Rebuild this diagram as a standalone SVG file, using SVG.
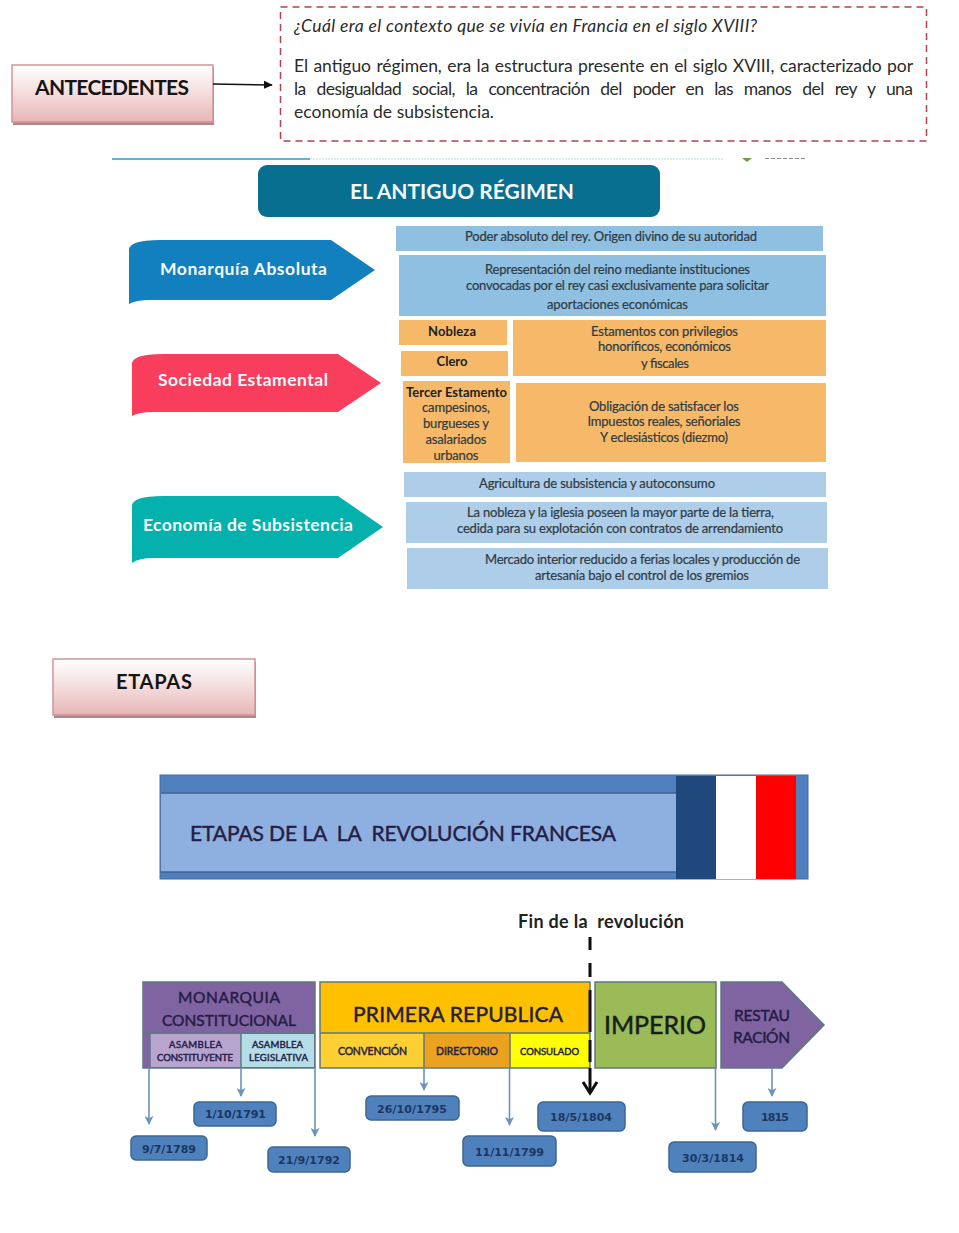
<svg xmlns="http://www.w3.org/2000/svg" width="959" height="1233" viewBox="0 0 959 1233">
<style>
text{font-family:Lato,"Liberation Sans",sans-serif;text-anchor:middle;white-space:pre}
.body{font-size:17.500px;fill:#2b2b2b;text-anchor:start}
.head{font-weight:700;fill:#151515}
.w{font-weight:700;fill:#f4f8fa}
.s{font-size:13px;fill:#2e3a44;stroke:#2e3a44;stroke-width:.2px}
.sb{font-size:13px;font-weight:700;fill:#1e1e1e}
.t{fill:#261d45;stroke:#261d45;stroke-width:.45px}
.d{font-size:11px;font-weight:700;fill:#1d3763;font-family:"DejaVu Sans",sans-serif}
.lb{fill:#8fc0e2}.or{fill:#f5b969}.lb2{fill:#aecde8}
.date{fill:#4f81bd;stroke:#3d6594;stroke-width:1.500}
.c{fill:none;stroke:#6b93bb;stroke-width:1.600;marker-end:url(#ah)}
.pink{fill:url(#pg);stroke:#cf9698;stroke-width:1.500}
.shadow{fill:#b08688}
.box{stroke:#5d7a80;stroke-width:1.500}
</style>
<defs>
<linearGradient id="pg" x1="0" y1="0" x2="0" y2="1"><stop offset="0" stop-color="#fff"/><stop offset=".45" stop-color="#f6e0e0"/><stop offset="1" stop-color="#e8b5b6"/></linearGradient>
<marker id="ah" viewBox="0 0 10 10" refX="9" refY="5" markerWidth="9" markerHeight="9" markerUnits="userSpaceOnUse" orient="auto"><path d="M0 0L10 5L0 10L2.500 5Z" fill="#6b93bb"/></marker>
<marker id="bk" viewBox="0 0 10 10" refX="9" refY="5" markerWidth="9" markerHeight="9" markerUnits="userSpaceOnUse" orient="auto"><path d="M0 .5L10 5L0 9.500Z" fill="#111"/></marker>
</defs>
<rect width="959" height="1233" fill="#fff"/>

<g id="antecedentes">
<rect class="shadow" x="13" y="68" width="201" height="57"/>
<rect class="pink" x="12" y="65" width="201" height="57"/>
<text class="head" x="112" y="95" font-size="21" textLength="154">ANTECEDENTES</text>
</g>

<g id="contexto">
<rect x="280.500" y="7" width="646" height="134" fill="#fff" stroke="#b8404e" stroke-width="1.500" stroke-dasharray="7 5"/>
<text class="body" x="294" y="32" font-style="italic" textLength="463">¿Cuál era el contexto que se vivía en Francia en el siglo XVIII?</text>
<text class="body" x="294" y="72" word-spacing="1" textLength="619">El antiguo régimen, era la estructura presente en el siglo XVIII, caracterizado por</text>
<text class="body" x="294" y="95" word-spacing="7" textLength="619">la desigualdad social, la concentración del poder en las manos del rey y una</text>
<text class="body" x="294" y="118" textLength="200">economía de subsistencia.</text>
</g>

<g id="separador">
<rect x="112" y="158" width="198" height="2" fill="#5fb4cf"/>
<line x1="310" y1="159" x2="723" y2="159" stroke="#bcd9e2" stroke-width="1" stroke-dasharray="2 1"/>
<path d="M742 158H752L747 162Z" fill="#6f9d3e"/>
<line x1="765" y1="158.500" x2="806" y2="158.500" stroke="#8a8a8a" stroke-width="1" stroke-dasharray="4 2"/>
</g>

<g id="titulo-antiguo-regimen">
<rect x="258" y="165" width="402" height="52" rx="9" fill="#086f91"/>
<text class="w" x="462" y="199" font-size="21" textLength="224">EL ANTIGUO RÉGIMEN</text>
</g>

<g id="monarquia-absoluta">
<path d="M129 304V250Q129 240 160 240H331L375 270L331 300H150Q136 300 129 304Z" fill="#1280be"/>
<text class="w" x="243.500" y="275" font-size="17.500" textLength="167">Monarquía Absoluta</text>
</g>
<g id="monarquia-detalle">
<rect class="lb" x="396" y="226" width="427" height="25"/>
<text class="s" x="611" y="241" textLength="292">Poder absoluto del rey. Origen divino de su autoridad</text>
<rect class="lb" x="399" y="255" width="427" height="61"/>
<text class="s" x="617.500" y="274" textLength="265">Representación del reino mediante instituciones</text>
<text class="s" x="617.500" y="290" textLength="303">convocadas por el rey casi exclusivamente para solicitar</text>
<text class="s" x="617.500" y="309" textLength="141">aportaciones económicas</text>
</g>

<g id="sociedad-estamental">
<path d="M132 416V364Q132 354 163 354H338L381 383L338 412H153Q139 412 132 416Z" fill="#f93d5c"/>
<text class="w" x="243" y="386" font-size="17.500" textLength="170">Sociedad Estamental</text>
</g>
<g id="nobleza"><rect class="or" x="399" y="320" width="108" height="25"/><text class="sb" x="452" y="336" textLength="48">Nobleza</text></g>
<g id="clero"><rect class="or" x="401" y="351" width="107" height="25"/><text class="sb" x="452" y="366" textLength="31">Clero</text></g>
<g id="tercer-estamento">
<rect class="or" x="403" y="381" width="107" height="82"/>
<text class="sb" x="456.500" y="397" textLength="101">Tercer Estamento</text>
<text class="s" x="456" y="412" textLength="68">campesinos,</text>
<text class="s" x="456" y="428" textLength="66">burgueses y</text>
<text class="s" x="456" y="444" textLength="61">asalariados</text>
<text class="s" x="456" y="460" textLength="45">urbanos</text>
</g>
<g id="privilegios">
<rect class="or" x="513" y="320" width="313" height="56"/>
<text class="s" x="664.500" y="336" textLength="147">Estamentos con privilegios</text>
<text class="s" x="664.500" y="351" textLength="133">honoríficos, económicos</text>
<text class="s" x="665" y="368" textLength="48">y fiscales</text>
</g>
<g id="obligaciones">
<rect class="or" x="516" y="383" width="310" height="79"/>
<text class="s" x="664" y="411" textLength="150">Obligación de satisfacer los</text>
<text class="s" x="664" y="426" textLength="153">Impuestos reales, señoriales</text>
<text class="s" x="664" y="442" textLength="128">Y eclesiásticos (diezmo)</text>
</g>

<g id="economia-subsistencia">
<path d="M132 563V506Q132 496 163 496H338L383 527L338 558H153Q139 558 132 563Z" fill="#05b1ac"/>
<text class="w" x="248" y="531" font-size="17.500" textLength="210">Economía de Subsistencia</text>
</g>
<g id="economia-detalle">
<rect class="lb2" x="404" y="472" width="422" height="25"/>
<text class="s" x="597" y="488" textLength="236">Agricultura de subsistencia y autoconsumo</text>
<rect class="lb2" x="406" y="502" width="421" height="41"/>
<text class="s" x="620.500" y="517" textLength="307">La nobleza y la iglesia poseen la mayor parte de la tierra,</text>
<text class="s" x="620" y="533" textLength="326">cedida para su explotación con contratos de arrendamiento</text>
<rect class="lb2" x="407" y="548" width="421" height="41"/>
<text class="s" x="642.500" y="564" textLength="315">Mercado interior reducido a ferias locales y producción de</text>
<text class="s" x="642" y="580" textLength="214">artesanía bajo el control de los gremios</text>
</g>

<g id="etapas">
<rect class="shadow" x="54" y="662" width="202" height="56"/>
<rect class="pink" x="53" y="659" width="202" height="56"/>
<text class="head" x="154" y="689" font-size="20" textLength="76">ETAPAS</text>
</g>

<g id="banner">
<rect x="160" y="775" width="648" height="104" fill="#4f7fbc" stroke="#466d9e"/>
<rect x="161" y="793" width="515" height="79" fill="#8db0e0"/>
<line x1="161" y1="793" x2="676" y2="793" stroke="#3e6492" stroke-width="1.500"/>
<line x1="161" y1="872" x2="676" y2="872" stroke="#3e6492" stroke-width="1.500"/>
<rect x="676" y="776" width="40" height="103" fill="#1f497d"/>
<rect x="716" y="776" width="40" height="103" fill="#fff"/>
<rect x="756" y="776" width="40" height="103" fill="#f00"/>
<text class="t" x="403" y="841" font-size="21" textLength="426">ETAPAS DE LA  LA  REVOLUCIÓN FRANCESA</text>
</g>

<g id="monarquia-constitucional">
<rect class="box" x="143" y="982" width="172" height="86" fill="#8064a2"/>
<line class="box" x1="143" y1="1033" x2="315" y2="1033"/>
<rect x="150" y="1034" width="91" height="33" fill="#b7a4cf"/>
<rect x="241" y="1034" width="73" height="33" fill="#b5dde8"/>
<line class="box" x1="150" y1="1033" x2="150" y2="1068"/>
<line class="box" x1="241" y1="1033" x2="241" y2="1068"/>
<text class="t" x="229" y="1002.500" font-size="15.500" textLength="102">MONARQUIA</text>
<text class="t" x="229" y="1025.500" font-size="15.500" textLength="134">CONSTITUCIONAL</text>
<text class="t" x="195.500" y="1048" font-size="9.500" textLength="53">ASAMBLEA</text>
<text class="t" x="195" y="1061" font-size="9.500" textLength="76">CONSTITUYENTE</text>
<text class="t" x="277.500" y="1048" font-size="9.500" textLength="51">ASAMBLEA</text>
<text class="t" x="278.500" y="1061" font-size="9.500" textLength="59">LEGISLATIVA</text>
</g>

<g id="primera-republica">
<rect class="box" x="320" y="982" width="270" height="86" fill="#ffc000"/>
<rect x="321" y="1034" width="103" height="33" fill="#ffcf33"/>
<rect x="424" y="1034" width="86" height="33" fill="#eba31f"/>
<rect x="510" y="1034" width="79" height="33" fill="#ffff00"/>
<line class="box" x1="320" y1="1033" x2="590" y2="1033"/>
<line class="box" x1="424" y1="1033" x2="424" y2="1068"/>
<line class="box" x1="510" y1="1033" x2="510" y2="1068"/>
<text class="t" x="458" y="1021.500" font-size="21" textLength="210">PRIMERA REPUBLICA</text>
<text class="t" x="372.500" y="1055" font-size="10.500" textLength="69">CONVENCIÓN</text>
<text class="t" x="467" y="1055" font-size="10.500" textLength="62">DIRECTORIO</text>
<text class="t" x="549.500" y="1055" font-size="9.500" textLength="59">CONSULADO</text>
</g>

<g id="imperio">
<rect class="box" x="595" y="982" width="121" height="86" fill="#9bbb59"/>
<text class="t" x="655" y="1034" font-size="25" textLength="102" style="fill:#142018;stroke:#142018">IMPERIO</text>
</g>

<g id="restauracion">
<path class="box" d="M721 982H782L824 1025L782 1068H721Z" fill="#8064a2"/>
<text class="t" x="762" y="1020.500" font-size="15.500" textLength="56">RESTAU</text>
<text class="t" x="761.500" y="1042.500" font-size="15.500" textLength="57">RACIÓN</text>
</g>

<g id="fin-revolucion">
<text x="601" y="928" font-size="18" font-weight="700" fill="#222" textLength="166">Fin de la  revolución</text>
</g>

<g id="conectores">
<path d="M213 84L272 85" fill="none" stroke="#111" stroke-width="1.500" marker-end="url(#bk)"/>
<path class="c" d="M149 1068V1124"/>
<path class="c" d="M241 1068V1096"/>
<path class="c" d="M315 1068V1136"/>
<path class="c" d="M424 1068V1090"/>
<path class="c" d="M509.500 1068V1125"/>
<path class="c" d="M715.500 1068V1130"/>
<path class="c" d="M772 1068V1096"/>
<path d="M590 937V950M590 963V977M590 990V1032M590 1040V1062M590 1068V1093" fill="none" stroke="#0d0d0d" stroke-width="3"/>
<path d="M583 1082L590 1093L597 1082" fill="none" stroke="#0d0d0d" stroke-width="3"/>
</g>

<g id="fecha-1789"><rect class="date" x="131" y="1136" width="76" height="24" rx="5"/><text class="d" x="169" y="1152.500" textLength="54">9/7/1789</text></g>
<g id="fecha-1791"><rect class="date" x="194" y="1102" width="82" height="24" rx="5"/><text class="d" x="235.500" y="1118" textLength="61">1/10/1791</text></g>
<g id="fecha-1792"><rect class="date" x="268" y="1147" width="82" height="25" rx="5"/><text class="d" x="309" y="1163.500" textLength="62">21/9/1792</text></g>
<g id="fecha-1795"><rect class="date" x="366" y="1096" width="93" height="24" rx="5"/><text class="d" x="412" y="1112.500" textLength="70">26/10/1795</text></g>
<g id="fecha-1799"><rect class="date" x="463" y="1136" width="93" height="30" rx="5"/><text class="d" x="509.500" y="1155.500" textLength="69">11/11/1799</text></g>
<g id="fecha-1804"><rect class="date" x="538" y="1102" width="87" height="29" rx="5"/><text class="d" x="581" y="1120.500" textLength="62">18/5/1804</text></g>
<g id="fecha-1814"><rect class="date" x="669" y="1142" width="87" height="30" rx="5"/><text class="d" x="713" y="1161.500" textLength="62">30/3/1814</text></g>
<g id="fecha-1815"><rect class="date" x="743" y="1102" width="64" height="29" rx="5"/><text class="d" x="775" y="1120.500" textLength="28">1815</text></g>
</svg>
